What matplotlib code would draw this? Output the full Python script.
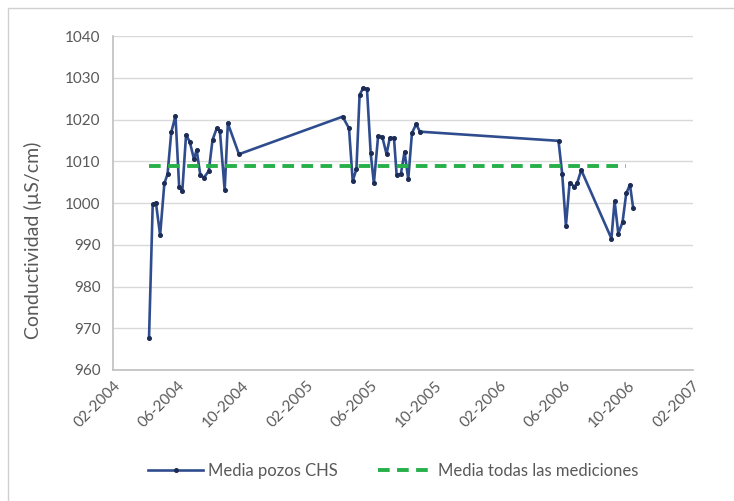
import matplotlib.pyplot as plt
import pandas as pd
from matplotlib.patches import Rectangle

# Fechas de muestreo y conductividad media de los pozos CHS
fechas = [
    "2004-04-09", "2004-04-16", "2004-04-22", "2004-04-30", "2004-05-08", "2004-05-14",
    "2004-05-21", "2004-05-29", "2004-06-05", "2004-06-11", "2004-06-18", "2004-06-25",
    "2004-07-03", "2004-07-08", "2004-07-15", "2004-07-22", "2004-07-31", "2004-08-07",
    "2004-08-15", "2004-08-21", "2004-08-30", "2004-09-05", "2004-09-26",
    "2005-04-10", "2005-04-22", "2005-04-29", "2005-05-06", "2005-05-12", "2005-05-19",
    "2005-05-26", "2005-06-02", "2005-06-08", "2005-06-16", "2005-06-24", "2005-07-02",
    "2005-07-08", "2005-07-16", "2005-07-21", "2005-07-29", "2005-08-05", "2005-08-12",
    "2005-08-19", "2005-08-27", "2005-09-03",
    "2006-05-23", "2006-05-30", "2006-06-06", "2006-06-13", "2006-06-22", "2006-06-27",
    "2006-07-05", "2006-08-31", "2006-09-06", "2006-09-13", "2006-09-21", "2006-09-28",
    "2006-10-05", "2006-10-11",
]
conductividad = [
    967.6, 999.7, 1000.1, 992.3, 1004.7, 1006.9,
    1016.9, 1020.9, 1003.8, 1003.0, 1016.3, 1014.7,
    1010.5, 1012.7, 1006.7, 1006.1, 1007.7, 1015.1,
    1017.9, 1017.2, 1003.1, 1019.1, 1011.7,
    1020.7, 1017.9, 1005.3, 1008.1, 1025.9, 1027.6,
    1027.3, 1011.9, 1004.7, 1016.0, 1015.8, 1011.7,
    1015.6, 1015.6, 1006.8, 1006.9, 1012.3, 1005.7,
    1016.8, 1018.9, 1017.1,
    1014.9, 1006.9, 994.6, 1004.9, 1003.9, 1004.7,
    1007.9, 991.5, 1000.5, 992.7, 995.4, 1002.3,
    1004.4, 998.9,
]

# Media de todas las mediciones
fechas_media = ["2004-04-09", "2006-09-28"]
media_total = [1008.9, 1008.9]

fechas_ticks = pd.date_range("2004-02-01", "2007-02-01", freq="4MS")
etiquetas_ticks = [d.strftime("%m-%Y") for d in fechas_ticks]

plt.rcParams['font.family'] = ['Lato', 'DejaVu Sans']
gris = '#595959'

fig = plt.figure(figsize=(7.34, 5.01), dpi=100)
fig.patches.append(Rectangle((0.011, -0.05), 1.1, 1.035, transform=fig.transFigure,
                             fill=False, edgecolor='#d0d0d0', linewidth=1.0))

ax = fig.add_axes([0.154, 0.2615, 0.79, 0.6665])

ax.plot(pd.to_datetime(fechas), conductividad, color='#2f4d8e', linewidth=1.9,
        marker='o', markersize=2.6, markerfacecolor='#1c2c55', markeredgecolor='#1c2c55',
        label='Media pozos CHS', zorder=3)
ax.plot(pd.to_datetime(fechas_media), media_total, color='#27b04a', linewidth=2.8,
        dashes=(3.0, 1.9), label='Media todas las mediciones', zorder=4)

ax.set_ylim(960, 1040)
ax.set_yticks(range(960, 1041, 10))
ax.set_xlim(fechas_ticks[0], fechas_ticks[-1])
ax.set_xticks(fechas_ticks)
ax.set_xticklabels(etiquetas_ticks, rotation=45, ha='right', rotation_mode='anchor')

ax.grid(axis='y', color='#d9d9d9', linewidth=1.0)
ax.set_axisbelow(True)
for lado in ['top', 'right']:
    ax.spines[lado].set_visible(False)
for lado in ['left', 'bottom']:
    ax.spines[lado].set_color('#bfbfbf')
    ax.spines[lado].set_linewidth(1.2)
ax.tick_params(axis='both', length=0, labelsize=11, labelcolor=gris)
ax.tick_params(axis='y', pad=9)
ax.tick_params(axis='x', pad=6)

ax.set_ylabel('Conductividad (µS/cm)', fontsize=14, color=gris)
ax.yaxis.set_label_coords(-0.122, 0.387)

fig.legend(loc='center', bbox_to_anchor=(0.536, 0.06), ncol=2, frameon=False,
           fontsize=12, labelcolor=gris, handlelength=3.3, handletextpad=0.3,
           columnspacing=2.4)

plt.savefig('out.png', dpi=100)
